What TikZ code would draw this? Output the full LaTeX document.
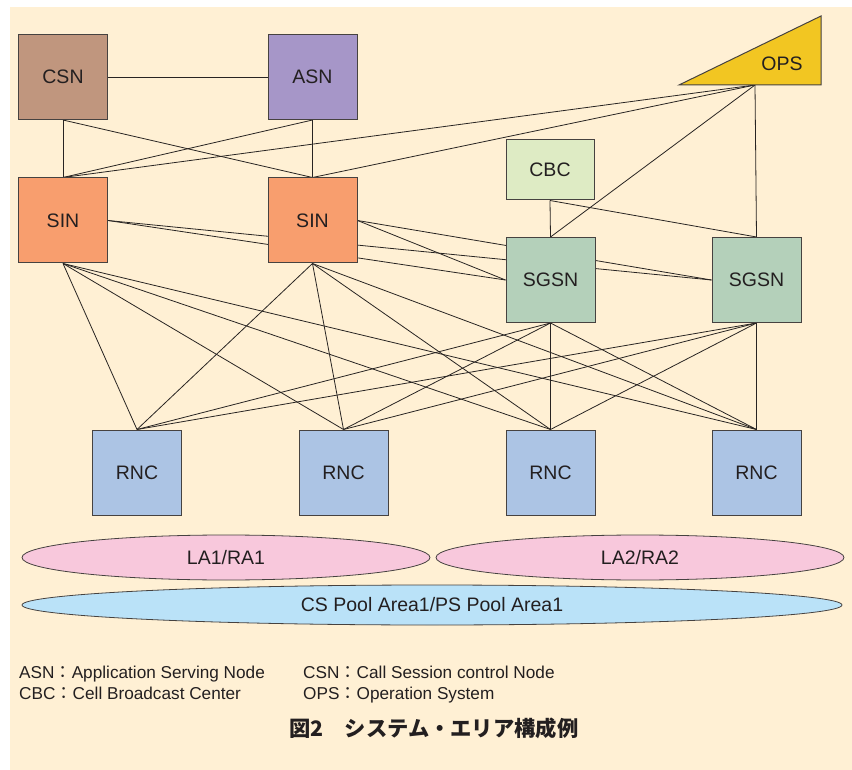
\documentclass[tikz,border=0pt]{standalone}
\usepackage{fontspec}
\setmainfont{Liberation Sans}
\newfontfamily\jpfont{Noto Sans CJK JP}
\usetikzlibrary{shapes.geometric}

\definecolor{paper}{RGB}{255,240,212}
\definecolor{csnfill}{RGB}{192,150,126}
\definecolor{asnfill}{RGB}{166,150,200}
\definecolor{sinfill}{RGB}{248,158,110}
\definecolor{cbcfill}{RGB}{222,235,196}
\definecolor{sgsnfill}{RGB}{180,208,186}
\definecolor{rncfill}{RGB}{172,196,228}
\definecolor{opsfill}{RGB}{242,198,34}
\definecolor{lafill}{RGB}{248,200,220}
\definecolor{poolfill}{RGB}{186,226,248}
\definecolor{boxline}{RGB}{70,66,64}
\definecolor{wirecol}{RGB}{40,36,34}
\definecolor{ink}{RGB}{35,31,32}

\pgfdeclarelayer{back}
\pgfdeclarelayer{wires}
\pgfsetlayers{back,wires,main}

\begin{document}
\begin{tikzpicture}[x=1pt,y=-1pt,
  box/.style={draw=boxline, line width=1pt, minimum width=89pt, minimum height=85pt,
    inner sep=0pt, font=\fontsize{19.5}{22}\selectfont, text=ink},
  wire/.style={draw=wirecol, line width=0.8pt},
  area/.style={ellipse, draw=boxline, line width=0.8pt, inner sep=0pt,
    font=\fontsize{19.5}{22}\selectfont, text=ink},
  legend/.style={anchor=base west, inner sep=0pt, font=\fontsize{17.2}{19}\selectfont, text=ink}]

\useasboundingbox (0,0) rectangle (852,770);
\begin{pgfonlayer}{back}
  \fill[paper] (10,7) rectangle (852,770);
\end{pgfonlayer}

% network elements
\node[box, fill=csnfill] (csn) at (63,77) {CSN};
\node[box, fill=asnfill] (asn) at (312.5,77) {ASN};
\node[box, fill=sinfill] (sin1) at (63,220.5) {SIN};
\node[box, fill=sinfill] (sin2) at (312.5,220.5) {SIN};
\node[box, fill=cbcfill, minimum width=88pt, minimum height=60pt] (cbc) at (550,170) {CBC};
\node[box, fill=sgsnfill] (sgsn1) at (550.5,280) {SGSN};
\node[box, fill=sgsnfill] (sgsn2) at (756.5,280) {SGSN};
\node[box, fill=rncfill] (rnc1) at (137,472.5) {RNC};
\node[box, fill=rncfill] (rnc2) at (343.5,472.5) {RNC};
\node[box, fill=rncfill] (rnc3) at (550.5,472.5) {RNC};
\node[box, fill=rncfill] (rnc4) at (756.5,472.5) {RNC};

% operation system (wedge)
\filldraw[fill=opsfill, draw=boxline, line width=1pt] (679,85) -- (821,16) -- (821,85) -- cycle;
\node[inner sep=0pt, font=\fontsize{19.5}{22}\selectfont, text=ink] (ops) at (782,64) {OPS};
\coordinate (opsfoot) at (755,85);

% links
\begin{pgfonlayer}{wires}
  \draw[wire] (csn) -- (asn);
  \foreach \u in {csn,asn}
    \foreach \s in {sin1,sin2}
      \draw[wire] (\u.south) -- (\s.north);
  \foreach \t in {sin1,sin2,sgsn1,sgsn2}
    \draw[wire] (opsfoot) -- (\t.north);
  \foreach \g in {sgsn1,sgsn2}
    \draw[wire] (cbc.south) -- (\g.north);
  \foreach \s in {sin1,sin2}
    \foreach \g in {sgsn1,sgsn2}
      \draw[wire] (\s.east) -- (\g.west);
  \foreach \u in {sin1,sin2,sgsn1,sgsn2}
    \foreach \r in {rnc1,rnc2,rnc3,rnc4}
      \draw[wire] (\u.south) -- (\r.north);
\end{pgfonlayer}

% location / routing areas and pool area
\node[area, fill=lafill, minimum width=408pt, minimum height=45pt] (la1) at (226,557.5) {LA1/RA1};
\node[area, fill=lafill, minimum width=408pt, minimum height=45pt] (la2) at (640,557.5) {LA2/RA2};
\node[area, fill=poolfill, minimum width=820pt, minimum height=40pt] (pool) at (432,605) {CS Pool Area1/PS Pool Area1};

% abbreviations
\node[legend] (l1) at (19,678.5) {ASN{\jpfont ：}Application Serving Node};
\node[legend] (l2) at (19,699.5) {CBC{\jpfont ：}Cell Broadcast Center};
\node[legend] (l3) at (303,678.5) {CSN{\jpfont ：}Call Session control Node};
\node[legend] (l4) at (303,699.5) {OPS{\jpfont ：}Operation System};

% caption
\node[anchor=base west, inner sep=0pt, font=\jpfont\bfseries\fontsize{21.3}{24}\selectfont, text=ink]
  (cap) at (289,736) {図2　システム・エリア構成例};
\end{tikzpicture}
\end{document}
